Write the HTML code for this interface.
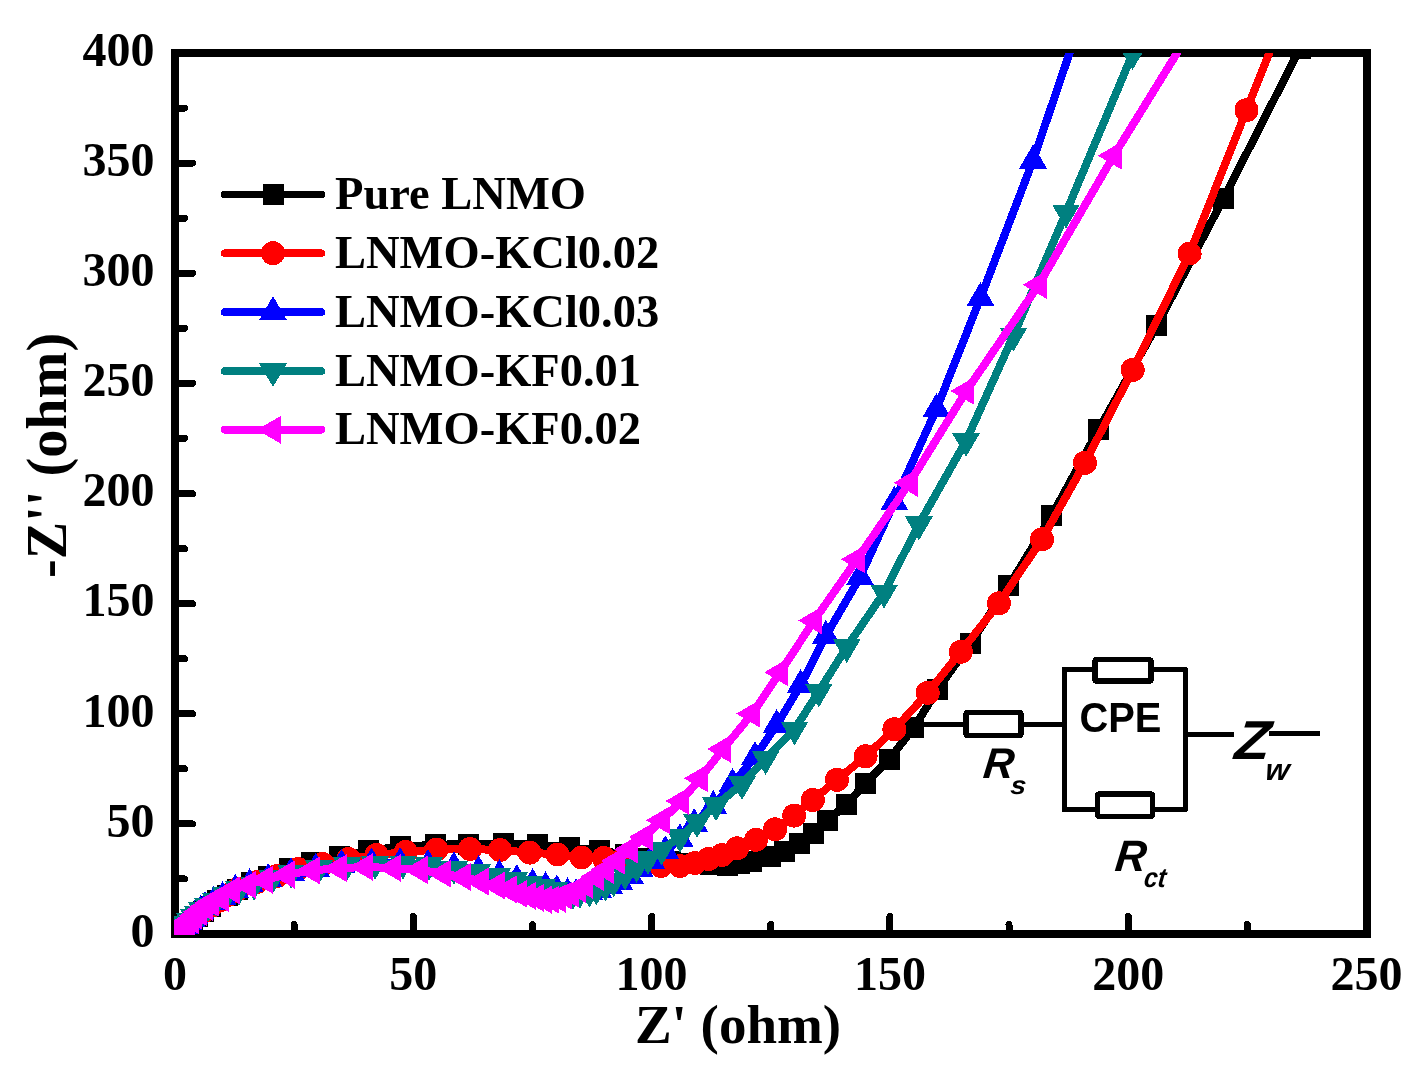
<!DOCTYPE html>
<html><head><meta charset="utf-8"><title>Nyquist plot</title>
<style>html,body{margin:0;padding:0;background:#fff;width:1424px;height:1073px;overflow:hidden}</style>
</head><body>
<svg width="1424" height="1073" viewBox="0 0 1424 1073" shape-rendering="crispEdges" style="position:absolute;left:0;top:0;will-change:transform"><rect width="1424" height="1073" fill="#fff"/><rect x="175" y="53" width="1191.5" height="881" fill="none" stroke="#000" stroke-width="8"/><path d="M294.1,930 V924.5 M413.3,930 V916.5 M532.5,930 V924.5 M651.6,930 V916.5 M770.8,930 V924.5 M889.9,930 V916.5 M1009.0,930 V924.5 M1128.2,930 V916.5 M1247.3,930 V924.5 M179,878.9 H184.5 M179,823.9 H192.5 M179,768.8 H184.5 M179,713.8 H192.5 M179,658.7 H184.5 M179,603.6 H192.5 M179,548.6 H184.5 M179,493.5 H192.5 M179,438.4 H184.5 M179,383.4 H192.5 M179,328.3 H184.5 M179,273.2 H192.5 M179,218.2 H184.5 M179,163.1 H192.5 M179,108.1 H184.5" stroke="#000" stroke-width="7" stroke-linecap="round" fill="none"/><defs><clipPath id="pc"><rect x="174" y="53" width="1192.5" height="882"/></clipPath></defs><g clip-path="url(#pc)"><path d="M179.0,931.0 L183.0,928.0 L187.0,925.0 L192.0,921.0 L197.0,916.5 L203.0,911.5 L210.0,906.0 L217.5,900.9 L227.7,895.4 L237.8,889.5 L251.3,882.5 L268.5,876.5 L289.6,868.5 L311.6,862.6 L339.5,856.6 L368.5,850.6 L400.5,846.7 L435.0,844.8 L468.0,844.0 L503.5,843.4 L537.0,844.5 L569.0,847.4 L599.0,850.5 L625.0,854.4 L648.0,858.0 L670.0,861.0 L690.0,863.5 L710.5,864.2 L727.5,865.0 L739.0,863.5 L751.5,861.0 L770.5,856.8 L784.7,851.5 L799.1,843.4 L813.5,833.6 L827.2,820.9 L846.4,804.4 L865.3,783.4 L889.2,759.4 L913.8,727.7 L937.7,689.5 L970.5,643.1 L1008.8,585.8 L1051.8,515.5 L1098.8,429.3 L1156.6,325.9 L1223.5,198.6 L1300.0,48.5 L1380.0,-110.0" fill="none" stroke="#000000" stroke-width="8" stroke-linejoin="round" stroke-linecap="butt"/><rect x="168.5" y="920.5" width="21" height="21" fill="#000000"/><rect x="172.5" y="917.5" width="21" height="21" fill="#000000"/><rect x="176.5" y="914.5" width="21" height="21" fill="#000000"/><rect x="181.5" y="910.5" width="21" height="21" fill="#000000"/><rect x="186.5" y="906.0" width="21" height="21" fill="#000000"/><rect x="192.5" y="901.0" width="21" height="21" fill="#000000"/><rect x="199.5" y="895.5" width="21" height="21" fill="#000000"/><rect x="207.0" y="890.4" width="21" height="21" fill="#000000"/><rect x="217.2" y="884.9" width="21" height="21" fill="#000000"/><rect x="227.3" y="879.0" width="21" height="21" fill="#000000"/><rect x="240.8" y="872.0" width="21" height="21" fill="#000000"/><rect x="258.0" y="866.0" width="21" height="21" fill="#000000"/><rect x="279.1" y="858.0" width="21" height="21" fill="#000000"/><rect x="301.1" y="852.1" width="21" height="21" fill="#000000"/><rect x="329.0" y="846.1" width="21" height="21" fill="#000000"/><rect x="358.0" y="840.1" width="21" height="21" fill="#000000"/><rect x="390.0" y="836.2" width="21" height="21" fill="#000000"/><rect x="424.5" y="834.3" width="21" height="21" fill="#000000"/><rect x="457.5" y="833.5" width="21" height="21" fill="#000000"/><rect x="493.0" y="832.9" width="21" height="21" fill="#000000"/><rect x="526.5" y="834.0" width="21" height="21" fill="#000000"/><rect x="558.5" y="836.9" width="21" height="21" fill="#000000"/><rect x="588.5" y="840.0" width="21" height="21" fill="#000000"/><rect x="614.5" y="843.9" width="21" height="21" fill="#000000"/><rect x="637.5" y="847.5" width="21" height="21" fill="#000000"/><rect x="659.5" y="850.5" width="21" height="21" fill="#000000"/><rect x="679.5" y="853.0" width="21" height="21" fill="#000000"/><rect x="700.0" y="853.7" width="21" height="21" fill="#000000"/><rect x="717.0" y="854.5" width="21" height="21" fill="#000000"/><rect x="728.5" y="853.0" width="21" height="21" fill="#000000"/><rect x="741.0" y="850.5" width="21" height="21" fill="#000000"/><rect x="760.0" y="846.3" width="21" height="21" fill="#000000"/><rect x="774.2" y="841.0" width="21" height="21" fill="#000000"/><rect x="788.6" y="832.9" width="21" height="21" fill="#000000"/><rect x="803.0" y="823.1" width="21" height="21" fill="#000000"/><rect x="816.7" y="810.4" width="21" height="21" fill="#000000"/><rect x="835.9" y="793.9" width="21" height="21" fill="#000000"/><rect x="854.8" y="772.9" width="21" height="21" fill="#000000"/><rect x="878.7" y="748.9" width="21" height="21" fill="#000000"/><rect x="903.3" y="717.2" width="21" height="21" fill="#000000"/><rect x="927.2" y="679.0" width="21" height="21" fill="#000000"/><rect x="960.0" y="632.6" width="21" height="21" fill="#000000"/><rect x="998.3" y="575.3" width="21" height="21" fill="#000000"/><rect x="1041.3" y="505.0" width="21" height="21" fill="#000000"/><rect x="1088.3" y="418.8" width="21" height="21" fill="#000000"/><rect x="1146.1" y="315.4" width="21" height="21" fill="#000000"/><rect x="1213.0" y="188.1" width="21" height="21" fill="#000000"/><rect x="1289.5" y="38.0" width="21" height="21" fill="#000000"/><rect x="1369.5" y="-120.5" width="21" height="21" fill="#000000"/><path d="M179.5,930.5 L183.0,927.5 L187.0,924.0 L192.0,920.0 L197.5,916.0 L204.0,911.0 L211.0,906.0 L219.0,900.5 L228.0,895.0 L238.0,889.0 L257.0,882.0 L277.0,876.0 L298.0,869.0 L322.7,864.0 L348.5,859.0 L376.6,855.0 L405.8,852.0 L436.5,849.5 L470.0,849.0 L500.0,850.0 L529.6,852.6 L557.6,854.5 L581.6,857.5 L603.8,858.0 L622.0,860.0 L641.0,863.0 L661.0,866.0 L680.0,866.0 L695.0,863.0 L708.5,859.0 L722.0,855.0 L737.2,848.3 L756.1,839.8 L775.0,829.3 L794.2,815.6 L812.8,800.0 L837.0,779.8 L865.6,756.3 L894.4,729.3 L927.7,692.8 L960.8,651.8 L998.9,603.3 L1042.0,539.3 L1085.0,462.8 L1132.7,369.9 L1189.6,253.5 L1246.5,110.2 L1306.5,-40.0" fill="none" stroke="#ff0000" stroke-width="8" stroke-linejoin="round" stroke-linecap="butt"/><circle cx="179.5" cy="930.5" r="12" fill="#ff0000"/><circle cx="183.0" cy="927.5" r="12" fill="#ff0000"/><circle cx="187.0" cy="924.0" r="12" fill="#ff0000"/><circle cx="192.0" cy="920.0" r="12" fill="#ff0000"/><circle cx="197.5" cy="916.0" r="12" fill="#ff0000"/><circle cx="204.0" cy="911.0" r="12" fill="#ff0000"/><circle cx="211.0" cy="906.0" r="12" fill="#ff0000"/><circle cx="219.0" cy="900.5" r="12" fill="#ff0000"/><circle cx="228.0" cy="895.0" r="12" fill="#ff0000"/><circle cx="238.0" cy="889.0" r="12" fill="#ff0000"/><circle cx="257.0" cy="882.0" r="12" fill="#ff0000"/><circle cx="277.0" cy="876.0" r="12" fill="#ff0000"/><circle cx="298.0" cy="869.0" r="12" fill="#ff0000"/><circle cx="322.7" cy="864.0" r="12" fill="#ff0000"/><circle cx="348.5" cy="859.0" r="12" fill="#ff0000"/><circle cx="376.6" cy="855.0" r="12" fill="#ff0000"/><circle cx="405.8" cy="852.0" r="12" fill="#ff0000"/><circle cx="436.5" cy="849.5" r="12" fill="#ff0000"/><circle cx="470.0" cy="849.0" r="12" fill="#ff0000"/><circle cx="500.0" cy="850.0" r="12" fill="#ff0000"/><circle cx="529.6" cy="852.6" r="12" fill="#ff0000"/><circle cx="557.6" cy="854.5" r="12" fill="#ff0000"/><circle cx="581.6" cy="857.5" r="12" fill="#ff0000"/><circle cx="603.8" cy="858.0" r="12" fill="#ff0000"/><circle cx="622.0" cy="860.0" r="12" fill="#ff0000"/><circle cx="641.0" cy="863.0" r="12" fill="#ff0000"/><circle cx="661.0" cy="866.0" r="12" fill="#ff0000"/><circle cx="680.0" cy="866.0" r="12" fill="#ff0000"/><circle cx="695.0" cy="863.0" r="12" fill="#ff0000"/><circle cx="708.5" cy="859.0" r="12" fill="#ff0000"/><circle cx="722.0" cy="855.0" r="12" fill="#ff0000"/><circle cx="737.2" cy="848.3" r="12" fill="#ff0000"/><circle cx="756.1" cy="839.8" r="12" fill="#ff0000"/><circle cx="775.0" cy="829.3" r="12" fill="#ff0000"/><circle cx="794.2" cy="815.6" r="12" fill="#ff0000"/><circle cx="812.8" cy="800.0" r="12" fill="#ff0000"/><circle cx="837.0" cy="779.8" r="12" fill="#ff0000"/><circle cx="865.6" cy="756.3" r="12" fill="#ff0000"/><circle cx="894.4" cy="729.3" r="12" fill="#ff0000"/><circle cx="927.7" cy="692.8" r="12" fill="#ff0000"/><circle cx="960.8" cy="651.8" r="12" fill="#ff0000"/><circle cx="998.9" cy="603.3" r="12" fill="#ff0000"/><circle cx="1042.0" cy="539.3" r="12" fill="#ff0000"/><circle cx="1085.0" cy="462.8" r="12" fill="#ff0000"/><circle cx="1132.7" cy="369.9" r="12" fill="#ff0000"/><circle cx="1189.6" cy="253.5" r="12" fill="#ff0000"/><circle cx="1246.5" cy="110.2" r="12" fill="#ff0000"/><circle cx="1306.5" cy="-40.0" r="12" fill="#ff0000"/><path d="M178.0,931.0 L181.0,928.5 L184.5,925.5 L188.0,922.0 L191.5,919.0 L194.6,916.0 L200.5,911.0 L205.2,907.0 L213.6,902.0 L222.6,897.0 L235.3,890.0 L249.6,884.0 L268.2,879.0 L291.0,873.0 L315.7,868.5 L341.6,865.0 L371.6,863.4 L400.2,863.0 L427.9,865.0 L453.9,867.3 L478.5,871.2 L499.4,875.2 L516.8,880.1 L532.6,884.0 L545.6,887.3 L556.8,890.3 L567.6,893.3 L576.0,894.2 L589.0,891.7 L597.8,889.6 L609.0,885.6 L619.0,881.7 L629.9,875.6 L639.5,868.5 L651.0,860.5 L665.3,851.4 L679.9,839.3 L694.2,824.0 L713.3,806.0 L732.5,784.0 L755.0,757.0 L776.6,725.2 L800.6,685.2 L825.9,635.8 L860.0,577.2 L894.3,502.0 L936.5,409.0 L980.5,298.0 L1033.0,160.6 L1093.0,-16.0" fill="none" stroke="#0000ff" stroke-width="8" stroke-linejoin="round" stroke-linecap="butt"/><path d="M178.0,915.0L192.0,939.0L164.0,939.0Z" fill="#0000ff"/><path d="M181.0,912.5L195.0,936.5L167.0,936.5Z" fill="#0000ff"/><path d="M184.5,909.5L198.5,933.5L170.5,933.5Z" fill="#0000ff"/><path d="M188.0,906.0L202.0,930.0L174.0,930.0Z" fill="#0000ff"/><path d="M191.5,903.0L205.5,927.0L177.5,927.0Z" fill="#0000ff"/><path d="M194.6,900.0L208.6,924.0L180.6,924.0Z" fill="#0000ff"/><path d="M200.5,895.0L214.5,919.0L186.5,919.0Z" fill="#0000ff"/><path d="M205.2,891.0L219.2,915.0L191.2,915.0Z" fill="#0000ff"/><path d="M213.6,886.0L227.6,910.0L199.6,910.0Z" fill="#0000ff"/><path d="M222.6,881.0L236.6,905.0L208.6,905.0Z" fill="#0000ff"/><path d="M235.3,874.0L249.3,898.0L221.3,898.0Z" fill="#0000ff"/><path d="M249.6,868.0L263.6,892.0L235.6,892.0Z" fill="#0000ff"/><path d="M268.2,863.0L282.2,887.0L254.2,887.0Z" fill="#0000ff"/><path d="M291.0,857.0L305.0,881.0L277.0,881.0Z" fill="#0000ff"/><path d="M315.7,852.5L329.7,876.5L301.7,876.5Z" fill="#0000ff"/><path d="M341.6,849.0L355.6,873.0L327.6,873.0Z" fill="#0000ff"/><path d="M371.6,847.4L385.6,871.4L357.6,871.4Z" fill="#0000ff"/><path d="M400.2,847.0L414.2,871.0L386.2,871.0Z" fill="#0000ff"/><path d="M427.9,849.0L441.9,873.0L413.9,873.0Z" fill="#0000ff"/><path d="M453.9,851.3L467.9,875.3L439.9,875.3Z" fill="#0000ff"/><path d="M478.5,855.2L492.5,879.2L464.5,879.2Z" fill="#0000ff"/><path d="M499.4,859.2L513.4,883.2L485.4,883.2Z" fill="#0000ff"/><path d="M516.8,864.1L530.8,888.1L502.8,888.1Z" fill="#0000ff"/><path d="M532.6,868.0L546.6,892.0L518.6,892.0Z" fill="#0000ff"/><path d="M545.6,871.3L559.6,895.3L531.6,895.3Z" fill="#0000ff"/><path d="M556.8,874.3L570.8,898.3L542.8,898.3Z" fill="#0000ff"/><path d="M567.6,877.3L581.6,901.3L553.6,901.3Z" fill="#0000ff"/><path d="M576.0,878.2L590.0,902.2L562.0,902.2Z" fill="#0000ff"/><path d="M589.0,875.7L603.0,899.7L575.0,899.7Z" fill="#0000ff"/><path d="M597.8,873.6L611.8,897.6L583.8,897.6Z" fill="#0000ff"/><path d="M609.0,869.6L623.0,893.6L595.0,893.6Z" fill="#0000ff"/><path d="M619.0,865.7L633.0,889.7L605.0,889.7Z" fill="#0000ff"/><path d="M629.9,859.6L643.9,883.6L615.9,883.6Z" fill="#0000ff"/><path d="M639.5,852.5L653.5,876.5L625.5,876.5Z" fill="#0000ff"/><path d="M651.0,844.5L665.0,868.5L637.0,868.5Z" fill="#0000ff"/><path d="M665.3,835.4L679.3,859.4L651.3,859.4Z" fill="#0000ff"/><path d="M679.9,823.3L693.9,847.3L665.9,847.3Z" fill="#0000ff"/><path d="M694.2,808.0L708.2,832.0L680.2,832.0Z" fill="#0000ff"/><path d="M713.3,790.0L727.3,814.0L699.3,814.0Z" fill="#0000ff"/><path d="M732.5,768.0L746.5,792.0L718.5,792.0Z" fill="#0000ff"/><path d="M755.0,741.0L769.0,765.0L741.0,765.0Z" fill="#0000ff"/><path d="M776.6,709.2L790.6,733.2L762.6,733.2Z" fill="#0000ff"/><path d="M800.6,669.2L814.6,693.2L786.6,693.2Z" fill="#0000ff"/><path d="M825.9,619.8L839.9,643.8L811.9,643.8Z" fill="#0000ff"/><path d="M860.0,561.2L874.0,585.2L846.0,585.2Z" fill="#0000ff"/><path d="M894.3,486.0L908.3,510.0L880.3,510.0Z" fill="#0000ff"/><path d="M936.5,393.0L950.5,417.0L922.5,417.0Z" fill="#0000ff"/><path d="M980.5,282.0L994.5,306.0L966.5,306.0Z" fill="#0000ff"/><path d="M1033.0,144.6L1047.0,168.6L1019.0,168.6Z" fill="#0000ff"/><path d="M1093.0,-32.0L1107.0,-8.0L1079.0,-8.0Z" fill="#0000ff"/><path d="M178.0,930.0 L182.0,927.0 L185.0,924.0 L189.5,920.5 L194.0,917.0 L198.0,914.0 L202.0,910.4 L208.0,906.2 L216.0,901.1 L226.0,895.3 L239.0,889.4 L254.0,884.5 L272.5,878.2 L291.0,872.5 L319.0,868.0 L347.0,865.0 L375.0,864.0 L403.0,863.5 L429.0,865.0 L454.0,869.0 L477.0,872.0 L497.0,876.0 L514.0,880.0 L529.0,884.0 L542.0,887.0 L554.0,890.0 L565.0,892.0 L573.0,893.7 L580.0,892.5 L589.4,891.5 L596.3,889.4 L605.4,885.5 L613.6,881.3 L625.1,874.3 L636.6,867.0 L648.0,859.0 L661.7,849.6 L680.0,837.0 L697.0,822.0 L716.0,805.3 L742.0,784.0 L765.6,758.9 L794.5,729.5 L818.8,691.5 L846.7,647.1 L884.1,592.6 L918.9,524.3 L966.0,441.0 L1013.5,335.5 L1066.0,212.5 L1132.5,54.0 L1180.0,-60.0" fill="none" stroke="#008080" stroke-width="8" stroke-linejoin="round" stroke-linecap="butt"/><path d="M178.0,946.0L192.0,922.0L164.0,922.0Z" fill="#008080"/><path d="M182.0,943.0L196.0,919.0L168.0,919.0Z" fill="#008080"/><path d="M185.0,940.0L199.0,916.0L171.0,916.0Z" fill="#008080"/><path d="M189.5,936.5L203.5,912.5L175.5,912.5Z" fill="#008080"/><path d="M194.0,933.0L208.0,909.0L180.0,909.0Z" fill="#008080"/><path d="M198.0,930.0L212.0,906.0L184.0,906.0Z" fill="#008080"/><path d="M202.0,926.4L216.0,902.4L188.0,902.4Z" fill="#008080"/><path d="M208.0,922.2L222.0,898.2L194.0,898.2Z" fill="#008080"/><path d="M216.0,917.1L230.0,893.1L202.0,893.1Z" fill="#008080"/><path d="M226.0,911.3L240.0,887.3L212.0,887.3Z" fill="#008080"/><path d="M239.0,905.4L253.0,881.4L225.0,881.4Z" fill="#008080"/><path d="M254.0,900.5L268.0,876.5L240.0,876.5Z" fill="#008080"/><path d="M272.5,894.2L286.5,870.2L258.5,870.2Z" fill="#008080"/><path d="M291.0,888.5L305.0,864.5L277.0,864.5Z" fill="#008080"/><path d="M319.0,884.0L333.0,860.0L305.0,860.0Z" fill="#008080"/><path d="M347.0,881.0L361.0,857.0L333.0,857.0Z" fill="#008080"/><path d="M375.0,880.0L389.0,856.0L361.0,856.0Z" fill="#008080"/><path d="M403.0,879.5L417.0,855.5L389.0,855.5Z" fill="#008080"/><path d="M429.0,881.0L443.0,857.0L415.0,857.0Z" fill="#008080"/><path d="M454.0,885.0L468.0,861.0L440.0,861.0Z" fill="#008080"/><path d="M477.0,888.0L491.0,864.0L463.0,864.0Z" fill="#008080"/><path d="M497.0,892.0L511.0,868.0L483.0,868.0Z" fill="#008080"/><path d="M514.0,896.0L528.0,872.0L500.0,872.0Z" fill="#008080"/><path d="M529.0,900.0L543.0,876.0L515.0,876.0Z" fill="#008080"/><path d="M542.0,903.0L556.0,879.0L528.0,879.0Z" fill="#008080"/><path d="M554.0,906.0L568.0,882.0L540.0,882.0Z" fill="#008080"/><path d="M565.0,908.0L579.0,884.0L551.0,884.0Z" fill="#008080"/><path d="M573.0,909.7L587.0,885.7L559.0,885.7Z" fill="#008080"/><path d="M580.0,908.5L594.0,884.5L566.0,884.5Z" fill="#008080"/><path d="M589.4,907.5L603.4,883.5L575.4,883.5Z" fill="#008080"/><path d="M596.3,905.4L610.3,881.4L582.3,881.4Z" fill="#008080"/><path d="M605.4,901.5L619.4,877.5L591.4,877.5Z" fill="#008080"/><path d="M613.6,897.3L627.6,873.3L599.6,873.3Z" fill="#008080"/><path d="M625.1,890.3L639.1,866.3L611.1,866.3Z" fill="#008080"/><path d="M636.6,883.0L650.6,859.0L622.6,859.0Z" fill="#008080"/><path d="M648.0,875.0L662.0,851.0L634.0,851.0Z" fill="#008080"/><path d="M661.7,865.6L675.7,841.6L647.7,841.6Z" fill="#008080"/><path d="M680.0,853.0L694.0,829.0L666.0,829.0Z" fill="#008080"/><path d="M697.0,838.0L711.0,814.0L683.0,814.0Z" fill="#008080"/><path d="M716.0,821.3L730.0,797.3L702.0,797.3Z" fill="#008080"/><path d="M742.0,800.0L756.0,776.0L728.0,776.0Z" fill="#008080"/><path d="M765.6,774.9L779.6,750.9L751.6,750.9Z" fill="#008080"/><path d="M794.5,745.5L808.5,721.5L780.5,721.5Z" fill="#008080"/><path d="M818.8,707.5L832.8,683.5L804.8,683.5Z" fill="#008080"/><path d="M846.7,663.1L860.7,639.1L832.7,639.1Z" fill="#008080"/><path d="M884.1,608.6L898.1,584.6L870.1,584.6Z" fill="#008080"/><path d="M918.9,540.3L932.9,516.3L904.9,516.3Z" fill="#008080"/><path d="M966.0,457.0L980.0,433.0L952.0,433.0Z" fill="#008080"/><path d="M1013.5,351.5L1027.5,327.5L999.5,327.5Z" fill="#008080"/><path d="M1066.0,228.5L1080.0,204.5L1052.0,204.5Z" fill="#008080"/><path d="M1132.5,70.0L1146.5,46.0L1118.5,46.0Z" fill="#008080"/><path d="M1180.0,-44.0L1194.0,-68.0L1166.0,-68.0Z" fill="#008080"/><path d="M178.0,930.0 L181.0,927.5 L184.0,925.0 L187.0,922.5 L190.5,919.7 L194.4,915.8 L198.6,911.9 L205.0,906.8 L210.7,902.6 L220.7,897.9 L232.0,890.4 L248.0,884.9 L264.8,879.8 L286.6,874.6 L311.9,870.4 L338.9,868.2 L365.3,867.0 L393.3,868.0 L419.5,869.9 L443.0,873.7 L462.8,876.9 L480.8,881.5 L497.0,885.5 L508.8,889.4 L519.2,893.8 L528.0,895.8 L535.9,897.8 L543.7,899.7 L551.0,899.7 L557.5,898.5 L564.1,895.7 L571.1,893.8 L578.0,889.0 L585.0,884.8 L595.9,876.9 L605.9,869.9 L617.1,860.8 L629.8,849.5 L644.9,837.0 L662.0,820.3 L681.4,801.1 L700.0,778.3 L723.1,749.0 L752.2,713.7 L780.2,672.3 L814.1,620.5 L857.0,559.3 L909.6,482.8 L966.4,391.0 L1038.7,284.8 L1113.8,155.6 L1190.0,32.0" fill="none" stroke="#ff00ff" stroke-width="8" stroke-linejoin="round" stroke-linecap="butt"/><path d="M162.0,930.0L186.0,916.0L186.0,944.0Z" fill="#ff00ff"/><path d="M165.0,927.5L189.0,913.5L189.0,941.5Z" fill="#ff00ff"/><path d="M168.0,925.0L192.0,911.0L192.0,939.0Z" fill="#ff00ff"/><path d="M171.0,922.5L195.0,908.5L195.0,936.5Z" fill="#ff00ff"/><path d="M174.5,919.7L198.5,905.7L198.5,933.7Z" fill="#ff00ff"/><path d="M178.4,915.8L202.4,901.8L202.4,929.8Z" fill="#ff00ff"/><path d="M182.6,911.9L206.6,897.9L206.6,925.9Z" fill="#ff00ff"/><path d="M189.0,906.8L213.0,892.8L213.0,920.8Z" fill="#ff00ff"/><path d="M194.7,902.6L218.7,888.6L218.7,916.6Z" fill="#ff00ff"/><path d="M204.7,897.9L228.7,883.9L228.7,911.9Z" fill="#ff00ff"/><path d="M216.0,890.4L240.0,876.4L240.0,904.4Z" fill="#ff00ff"/><path d="M232.0,884.9L256.0,870.9L256.0,898.9Z" fill="#ff00ff"/><path d="M248.8,879.8L272.8,865.8L272.8,893.8Z" fill="#ff00ff"/><path d="M270.6,874.6L294.6,860.6L294.6,888.6Z" fill="#ff00ff"/><path d="M295.9,870.4L319.9,856.4L319.9,884.4Z" fill="#ff00ff"/><path d="M322.9,868.2L346.9,854.2L346.9,882.2Z" fill="#ff00ff"/><path d="M349.3,867.0L373.3,853.0L373.3,881.0Z" fill="#ff00ff"/><path d="M377.3,868.0L401.3,854.0L401.3,882.0Z" fill="#ff00ff"/><path d="M403.5,869.9L427.5,855.9L427.5,883.9Z" fill="#ff00ff"/><path d="M427.0,873.7L451.0,859.7L451.0,887.7Z" fill="#ff00ff"/><path d="M446.8,876.9L470.8,862.9L470.8,890.9Z" fill="#ff00ff"/><path d="M464.8,881.5L488.8,867.5L488.8,895.5Z" fill="#ff00ff"/><path d="M481.0,885.5L505.0,871.5L505.0,899.5Z" fill="#ff00ff"/><path d="M492.8,889.4L516.8,875.4L516.8,903.4Z" fill="#ff00ff"/><path d="M503.2,893.8L527.2,879.8L527.2,907.8Z" fill="#ff00ff"/><path d="M512.0,895.8L536.0,881.8L536.0,909.8Z" fill="#ff00ff"/><path d="M519.9,897.8L543.9,883.8L543.9,911.8Z" fill="#ff00ff"/><path d="M527.7,899.7L551.7,885.7L551.7,913.7Z" fill="#ff00ff"/><path d="M535.0,899.7L559.0,885.7L559.0,913.7Z" fill="#ff00ff"/><path d="M541.5,898.5L565.5,884.5L565.5,912.5Z" fill="#ff00ff"/><path d="M548.1,895.7L572.1,881.7L572.1,909.7Z" fill="#ff00ff"/><path d="M555.1,893.8L579.1,879.8L579.1,907.8Z" fill="#ff00ff"/><path d="M562.0,889.0L586.0,875.0L586.0,903.0Z" fill="#ff00ff"/><path d="M569.0,884.8L593.0,870.8L593.0,898.8Z" fill="#ff00ff"/><path d="M579.9,876.9L603.9,862.9L603.9,890.9Z" fill="#ff00ff"/><path d="M589.9,869.9L613.9,855.9L613.9,883.9Z" fill="#ff00ff"/><path d="M601.1,860.8L625.1,846.8L625.1,874.8Z" fill="#ff00ff"/><path d="M613.8,849.5L637.8,835.5L637.8,863.5Z" fill="#ff00ff"/><path d="M628.9,837.0L652.9,823.0L652.9,851.0Z" fill="#ff00ff"/><path d="M646.0,820.3L670.0,806.3L670.0,834.3Z" fill="#ff00ff"/><path d="M665.4,801.1L689.4,787.1L689.4,815.1Z" fill="#ff00ff"/><path d="M684.0,778.3L708.0,764.3L708.0,792.3Z" fill="#ff00ff"/><path d="M707.1,749.0L731.1,735.0L731.1,763.0Z" fill="#ff00ff"/><path d="M736.2,713.7L760.2,699.7L760.2,727.7Z" fill="#ff00ff"/><path d="M764.2,672.3L788.2,658.3L788.2,686.3Z" fill="#ff00ff"/><path d="M798.1,620.5L822.1,606.5L822.1,634.5Z" fill="#ff00ff"/><path d="M841.0,559.3L865.0,545.3L865.0,573.3Z" fill="#ff00ff"/><path d="M893.6,482.8L917.6,468.8L917.6,496.8Z" fill="#ff00ff"/><path d="M950.4,391.0L974.4,377.0L974.4,405.0Z" fill="#ff00ff"/><path d="M1022.7,284.8L1046.7,270.8L1046.7,298.8Z" fill="#ff00ff"/><path d="M1097.8,155.6L1121.8,141.6L1121.8,169.6Z" fill="#ff00ff"/><path d="M1174.0,32.0L1198.0,18.0L1198.0,46.0Z" fill="#ff00ff"/></g><text x="175.0" y="989.6" text-anchor="middle" style="font-family:&quot;Liberation Serif&quot;,serif;font-weight:bold;font-size:48px">0</text><text x="413.3" y="989.6" text-anchor="middle" style="font-family:&quot;Liberation Serif&quot;,serif;font-weight:bold;font-size:48px">50</text><text x="651.6" y="989.6" text-anchor="middle" style="font-family:&quot;Liberation Serif&quot;,serif;font-weight:bold;font-size:48px">100</text><text x="889.9" y="989.6" text-anchor="middle" style="font-family:&quot;Liberation Serif&quot;,serif;font-weight:bold;font-size:48px">150</text><text x="1128.2" y="989.6" text-anchor="middle" style="font-family:&quot;Liberation Serif&quot;,serif;font-weight:bold;font-size:48px">200</text><text x="1366.5" y="989.6" text-anchor="middle" style="font-family:&quot;Liberation Serif&quot;,serif;font-weight:bold;font-size:48px">250</text><text x="154.5" y="946.8" text-anchor="end" style="font-family:&quot;Liberation Serif&quot;,serif;font-weight:bold;font-size:48px">0</text><text x="154.5" y="836.7" text-anchor="end" style="font-family:&quot;Liberation Serif&quot;,serif;font-weight:bold;font-size:48px">50</text><text x="154.5" y="726.5" text-anchor="end" style="font-family:&quot;Liberation Serif&quot;,serif;font-weight:bold;font-size:48px">100</text><text x="154.5" y="616.4" text-anchor="end" style="font-family:&quot;Liberation Serif&quot;,serif;font-weight:bold;font-size:48px">150</text><text x="154.5" y="506.3" text-anchor="end" style="font-family:&quot;Liberation Serif&quot;,serif;font-weight:bold;font-size:48px">200</text><text x="154.5" y="396.2" text-anchor="end" style="font-family:&quot;Liberation Serif&quot;,serif;font-weight:bold;font-size:48px">250</text><text x="154.5" y="286.1" text-anchor="end" style="font-family:&quot;Liberation Serif&quot;,serif;font-weight:bold;font-size:48px">300</text><text x="154.5" y="175.9" text-anchor="end" style="font-family:&quot;Liberation Serif&quot;,serif;font-weight:bold;font-size:48px">350</text><text x="154.5" y="65.8" text-anchor="end" style="font-family:&quot;Liberation Serif&quot;,serif;font-weight:bold;font-size:48px">400</text><text x="738" y="1043" text-anchor="middle" style="font-family:&quot;Liberation Serif&quot;,serif;font-weight:bold;font-size:55px">Z' (ohm)</text><text transform="translate(65.5,455.4) rotate(-90)" x="0" y="0" text-anchor="middle" style="font-family:&quot;Liberation Serif&quot;,serif;font-weight:bold;font-size:56.2px">-Z'' (ohm)</text><line x1="224.5" y1="194.4" x2="321.5" y2="194.4" stroke="#000" stroke-width="7.5" stroke-linecap="round"/><rect x="262.5" y="183.9" width="21" height="21" fill="#000"/><text x="335" y="208.9" style="font-family:&quot;Liberation Serif&quot;,serif;font-weight:bold;font-size:46.5px">Pure LNMO</text><line x1="224.5" y1="253.2" x2="321.5" y2="253.2" stroke="#f00" stroke-width="7.5" stroke-linecap="round"/><circle cx="273.0" cy="253.2" r="12" fill="#f00"/><text x="335" y="267.8" style="font-family:&quot;Liberation Serif&quot;,serif;font-weight:bold;font-size:46.5px">LNMO-KCl0.02</text><line x1="224.5" y1="312.1" x2="321.5" y2="312.1" stroke="#00f" stroke-width="7.5" stroke-linecap="round"/><path d="M273.0,296.1L287.0,320.1L259.0,320.1Z" fill="#00f"/><text x="335" y="326.6" style="font-family:&quot;Liberation Serif&quot;,serif;font-weight:bold;font-size:46.5px">LNMO-KCl0.03</text><line x1="224.5" y1="371.0" x2="321.5" y2="371.0" stroke="#008080" stroke-width="7.5" stroke-linecap="round"/><path d="M273.0,387.0L287.0,363.0L259.0,363.0Z" fill="#008080"/><text x="335" y="385.5" style="font-family:&quot;Liberation Serif&quot;,serif;font-weight:bold;font-size:46.5px">LNMO-KF0.01</text><line x1="224.5" y1="429.8" x2="321.5" y2="429.8" stroke="#f0f" stroke-width="7.5" stroke-linecap="round"/><path d="M257.0,429.8L281.0,415.8L281.0,443.8Z" fill="#f0f"/><text x="335" y="444.3" style="font-family:&quot;Liberation Serif&quot;,serif;font-weight:bold;font-size:46.5px">LNMO-KF0.02</text><g fill="none" stroke="#000" stroke-width="5.5" stroke-linejoin="round"><path d="M920,724.5 H966 M1021,724.5 H1064"/><rect x="966" y="712.5" width="55" height="23" rx="1.5"/><path d="M1095,669.4 H1064.3 V809.3 H1097.6 M1152.4,809.3 H1185.3 V669.4 H1151 M1185.3,734.7 H1234"/><rect x="1095" y="659.7" width="56" height="21.5" rx="1.5"/><rect x="1097.6" y="794" width="54.8" height="22.5" rx="1.5"/><path d="M1269,733.3 H1320"/></g><text transform="translate(1079.40,731.70) scale(0.937,1)" style="font-family:&quot;Liberation Sans&quot;,sans-serif;font-weight:bold;font-size:42.6px">CPE</text><text transform="translate(982.30,777.80) skewX(-6.5) scale(0.977,1)" style="font-family:&quot;Liberation Sans&quot;,sans-serif;font-weight:bold;font-style:italic;font-size:43.0px">R</text><text transform="translate(1009.80,793.80) skewX(-6.5) scale(1.103,1)" style="font-family:&quot;Liberation Sans&quot;,sans-serif;font-weight:bold;font-style:italic;font-size:25.6px">s</text><text transform="translate(1114.10,871.10) skewX(-6.5) scale(0.975,1)" style="font-family:&quot;Liberation Sans&quot;,sans-serif;font-weight:bold;font-style:italic;font-size:43.9px">R</text><text transform="translate(1143.20,886.70) skewX(-6.5) scale(0.903,1)" style="font-family:&quot;Liberation Sans&quot;,sans-serif;font-weight:bold;font-style:italic;font-size:27.4px">ct</text><text transform="translate(1233.50,758.80) skewX(-6.5) scale(1.048,1)" style="font-family:&quot;Liberation Sans&quot;,sans-serif;font-weight:bold;font-style:italic;font-size:54.8px">Z</text><text transform="translate(1264.50,779.80) skewX(-6.5) scale(1.006,1)" style="font-family:&quot;Liberation Sans&quot;,sans-serif;font-weight:bold;font-style:italic;font-size:30.5px">w</text></svg>
</body></html>
